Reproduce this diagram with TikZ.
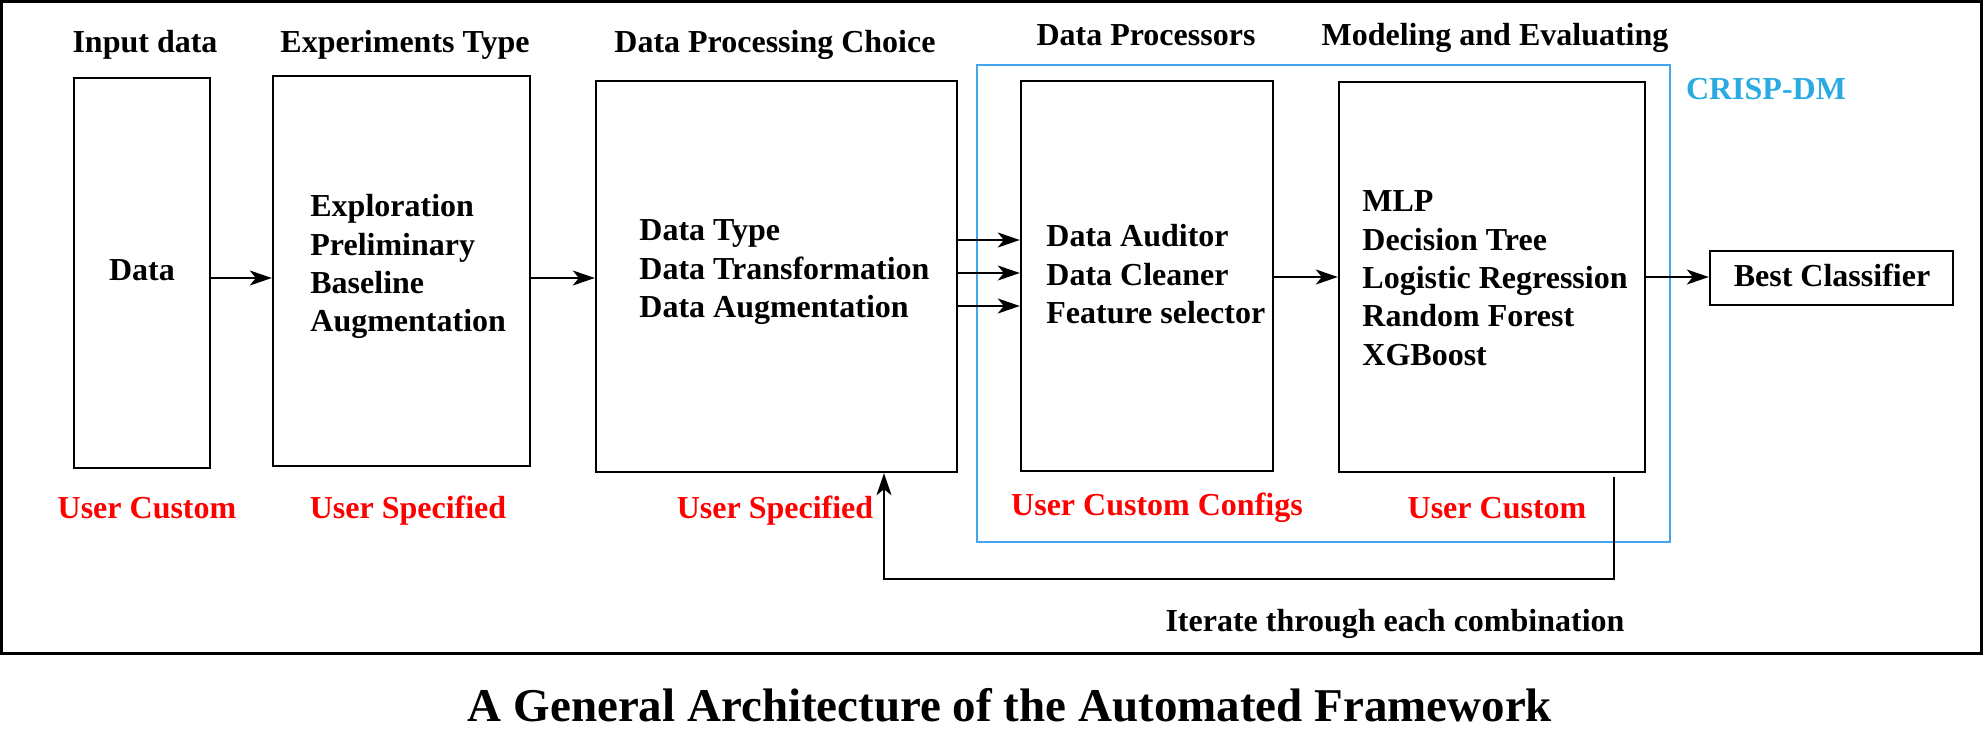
\documentclass[tikz,border=0pt]{standalone}
\usepackage{fontspec}
\setmainfont{Liberation Serif}
\usetikzlibrary{arrows.meta,fit}
\definecolor{crisptext}{RGB}{41,171,226}
\definecolor{crispframe}{RGB}{66,165,240}
\definecolor{userred}{RGB}{255,0,0}
\begin{document}
\begin{tikzpicture}[x=0.5pt,y=-0.5pt,
  box/.style={draw, line width=1.2pt, inner sep=0pt},
  txt/.style={font=\fontsize{16}{19.15}\selectfont\bfseries, inner sep=0pt},
  userlbl/.style={txt, text=userred, anchor=base},
  head/.style={txt, anchor=base},
  arr/.style={line width=1.1pt, -{Stealth[length=11pt,width=7.5pt,inset=3pt]}}]
\useasboundingbox (0,0) rectangle (1983,743);

% outer frame and CRISP-DM frame
\node[draw, line width=1.5pt, inner sep=0pt, fit={(1.5,1.5) (1981,653)}] (frame) {};
\node[draw=crispframe, line width=1.1pt, inner sep=0pt, fit={(977,65) (1670,542)}] (crisp) {};
\node[txt, text=crisptext, anchor=base] (crisplbl) at (1766,100) {CRISP-DM};

% boxes
\node[box, fit={(74,78) (210,468)}] (data) {};
\node[box, fit={(273,76) (530,466)}] (exp) {};
\node[box, fit={(596,81) (957,472)}] (dpc) {};
\node[box, fit={(1021,81) (1273,471)}] (dp) {};
\node[box, fit={(1339,82) (1645,472)}] (model) {};
\node[box, fit={(1710,251) (1953,305)}] (best) {};

% headers
\node[head] (h1) at (145,53) {Input data};
\node[head] (h2) at (405,53) {Experiments Type};
\node[head] (h3) at (775,53) {Data Processing Choice};
\node[head] (h4) at (1146,46) {Data Processors};
\node[head] (h5) at (1495,46) {Modeling and Evaluating};

% box contents
\node[head] (datatxt) at (142,281) {Data};
\node[txt, anchor=base west] (exptxt) at (310,217) {\begin{tabular}[t]{@{}l@{}}Exploration\\Preliminary\\Baseline\\Augmentation\end{tabular}};
\node[txt, anchor=base west] (dpctxt) at (639,241) {\begin{tabular}[t]{@{}l@{}}Data Type\\Data Transformation\\Data Augmentation\end{tabular}};
\node[txt, anchor=base west] (dptxt) at (1046,247) {\begin{tabular}[t]{@{}l@{}}Data Auditor\\Data Cleaner\\Feature selector\end{tabular}};
\node[txt, anchor=base west] (modeltxt) at (1362,212) {\begin{tabular}[t]{@{}l@{}}MLP\\Decision Tree\\Logistic Regression\\Random Forest\\XGBoost\end{tabular}};
\node[head] (besttxt) at (1832,287) {Best Classifier};

% red labels
\node[userlbl] (u1) at (147,518) {User Custom};
\node[userlbl] (u2) at (408,518) {User Specified};
\node[userlbl] (u3) at (775,518) {User Specified};
\node[userlbl] (u4) at (1157,516) {User Custom Configs};
\node[userlbl] (u5) at (1497,518) {User Custom};

% iterate label and title
\node[head] (iter) at (1395,631) {Iterate through each combination};
\node[txt, font=\fontsize{23.5}{28}\selectfont\bfseries, anchor=base] (title) at (1010,721) {A General Architecture of the Automated Framework};

% arrows
\coordinate (r1) at (0,278);
\coordinate (r2) at (0,240);
\coordinate (r3) at (0,273);
\coordinate (r4) at (0,306);
\coordinate (r5) at (0,277);
\draw[arr] (data.east |- r1) -- (exp.west |- r1);
\draw[arr] (exp.east |- r1) -- (dpc.west |- r1);
\draw[arr] (dpc.east |- r2) -- (dp.west |- r2);
\draw[arr] (dpc.east |- r3) -- (dp.west |- r3);
\draw[arr] (dpc.east |- r4) -- (dp.west |- r4);
\draw[arr] (dp.east |- r5) -- (model.west |- r5);
\draw[arr] (model.east |- r5) -- (best.west |- r5);

% feedback loop
\coordinate (fbA) at (1614,579);
\coordinate (fbB) at (884,579);
\draw[arr] ([yshift=-2]model.south -| fbA) -- (fbA) -- (fbB) -- (dpc.south -| fbB);
\end{tikzpicture}
\end{document}
